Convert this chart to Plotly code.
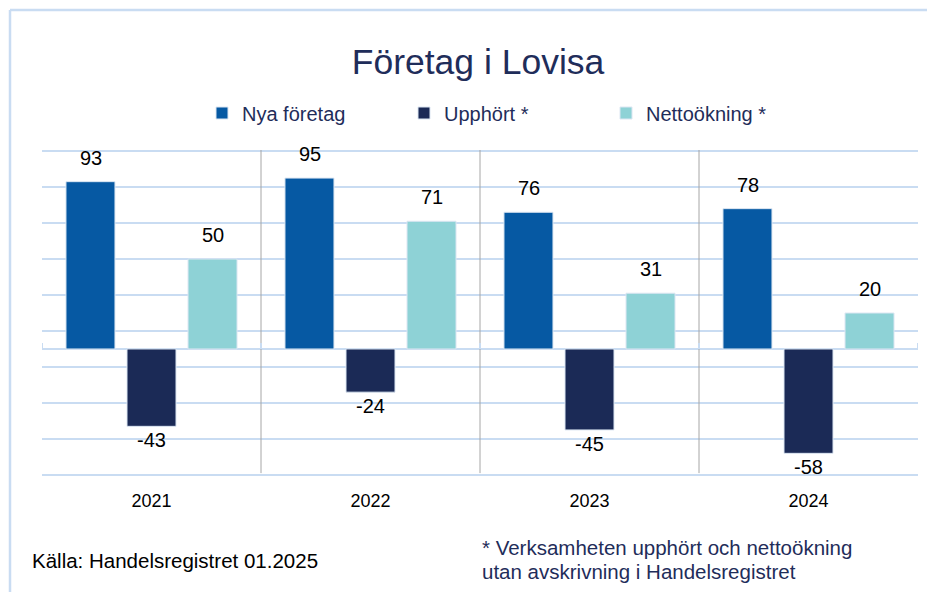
import plotly.graph_objects as go

years = ["2021", "2022", "2023", "2024"]
nya = [93, 95, 76, 78]
upphort = [-43, -24, -45, -58]
netto = [50, 71, 31, 20]
series_names = ["Nya företag", "Upphört *", "Nettoökning *"]
series_values = [nya, upphort, netto]
colors = ["#0659A3", "#1B2A56", "#8ED2D6"]

xpos = list(range(len(years)))

# page body has an 8px margin; figure is laid out in its own pixel space
OFF = 8
W, H = 927, 584
ML, MR, MT, MB = 34, 17, 142, 116
PW = W - ML - MR
PH = H - MT - MB

def px_x(p):  # screen pixel -> paper x
    return (p - OFF - ML) / PW

def px_y(p):  # screen pixel -> paper y
    return (H - MB - (p - OFF)) / PH

FONT = "Liberation Sans, Arial, sans-serif"
NAVY = "#1F2D5A"
GRID = "#C9DCF2"

fig = go.Figure()
for name, vals, col in zip(series_names, series_values, colors):
    fig.add_trace(go.Bar(
        x=xpos, y=vals, name=name,
        marker=dict(color=col, line=dict(color="#DCE6F2", width=1)),
    ))

# data labels
offsets = [-61, 0, 61]
annotations = []
for vals, off in zip(series_values, offsets):
    for xp, v in zip(xpos, vals):
        annotations.append(dict(
            x=xp, y=v, xref="x", yref="y", text=str(v), showarrow=False,
            xshift=off, yshift=11 if v >= 0 else -1,
            yanchor="bottom" if v >= 0 else "top",
            font=dict(family=FONT, size=20, color="#000000"),
        ))

annotations.append(dict(
    x=px_x(30), y=px_y(560), xref="paper", yref="paper", xanchor="left", yanchor="middle",
    text="Källa: Handelsregistret 01.2025", showarrow=False,
    font=dict(family=FONT, size=20.5, color="#000000"),
))
foot_lines = ["* Verksamheten upphört och nettoökning", "utan avskrivning i Handelsregistret"]
for line, yy in zip(foot_lines, [547, 571]):
    annotations.append(dict(
        x=px_x(480), y=px_y(yy), xref="paper", yref="paper", xanchor="left", yanchor="middle",
        text=line, showarrow=False, align="left",
        font=dict(family=FONT, size=20.5, color=NAVY),
    ))

shapes = []
# category separators
for b in [0.5, 1.5, 2.5]:
    shapes.append(dict(type="line", xref="x", yref="y", x0=b, x1=b, y0=-69, y1=112,
                       line=dict(color="#A6A6A6", width=1)))
# small tick marks on the category axis
for b in [-0.5, 0.5, 1.5, 2.5, 3.5]:
    shapes.append(dict(type="line", xref="x", yref="y", x0=b, x1=b,
                       ysizemode="pixel", yanchor=0, y0=0, y1=6,
                       line=dict(color=GRID, width=2)))
# outer chart border (top and left)
shapes.append(dict(type="line", xref="paper", yref="paper",
                   x0=px_x(10), x1=px_x(950), y0=px_y(10), y1=px_y(10),
                   line=dict(color=GRID, width=2.5)))
shapes.append(dict(type="line", xref="paper", yref="paper",
                   x0=px_x(10), x1=px_x(10), y0=px_y(10), y1=px_y(610),
                   line=dict(color=GRID, width=2.5)))

fig.update_layout(
    width=W, height=H,
    margin=dict(l=ML, r=MR, t=MT, b=MB, autoexpand=False),
    paper_bgcolor="white", plot_bgcolor="white",
    title=dict(text="Företag i Lovisa", x=(478 - OFF) / W, y=1 - (62 - OFF) / H,
               xref="container", yref="container", xanchor="center", yanchor="middle",
               font=dict(family=FONT, size=35.5, color=NAVY)),
    barmode="group", bargap=0.164, bargroupgap=0.197,
    showlegend=True,
    legend=dict(orientation="h", x=px_x(202), y=px_y(113), xanchor="left", yanchor="middle",
                font=dict(family=FONT, size=20, color=NAVY),
                itemwidth=30, entrywidth=157, bgcolor="rgba(0,0,0,0)",
                traceorder="normal"),
    xaxis=dict(range=[-0.5, 3.5], tickvals=xpos, ticktext=years,
               showgrid=False, showline=False, ticks="", zeroline=False,
               tickfont=dict(family=FONT, size=18, color="#000000"),
               ticklabelstandoff=12, automargin=False, fixedrange=True),
    yaxis=dict(range=[-70.6, 110.6], tick0=-70, dtick=20, showticklabels=False,
               showgrid=True, gridcolor=GRID, gridwidth=2,
               zeroline=True, zerolinecolor=GRID, zerolinewidth=2,
               showline=False, ticks="", automargin=False, fixedrange=True),
    annotations=annotations,
    shapes=shapes,
)

fig.write_html("out.html")
